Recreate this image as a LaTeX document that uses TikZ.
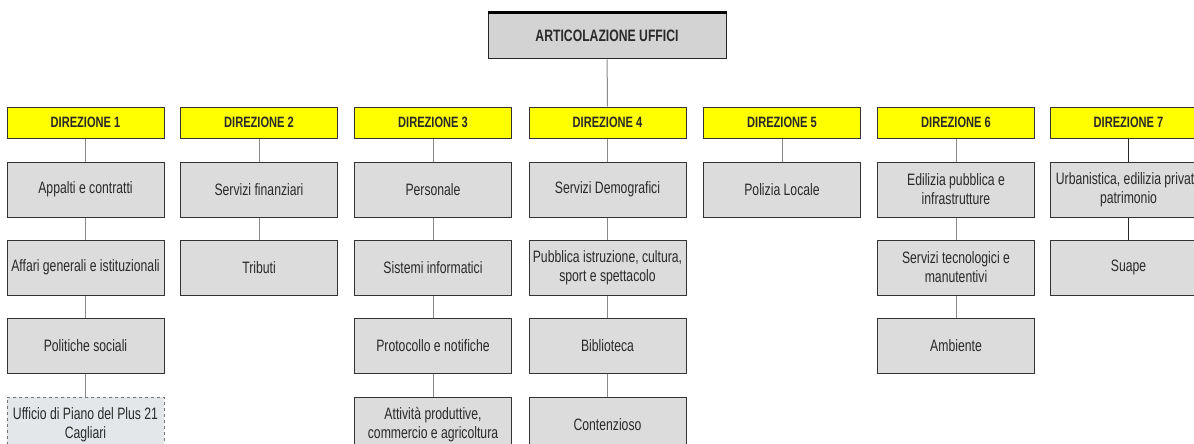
\documentclass[tikz,border=0pt]{standalone}
\usepackage{fontspec}
\setmainfont{Liberation Sans}[FakeStretch=0.74]
\definecolor{boxgray}{HTML}{DCDCDC}
\definecolor{topgray}{HTML}{D3D3D3}
\definecolor{dirlow}{HTML}{FFFF00}
\definecolor{linegray}{HTML}{8A8A8A}
\definecolor{dashfill}{HTML}{E3E7E9}
\definecolor{txt}{HTML}{2A2A2A}
\tikzset{
  topbox/.style={draw=black!85, line width=1pt, fill=topgray, minimum width=238pt, minimum height=46pt, inner sep=0pt, text=txt, font=\fontsize{16.5}{18}\selectfont\bfseries},
  dirbox/.style={draw=black!80, line width=1pt, fill=dirlow, minimum width=157pt, minimum height=31pt, inner sep=0pt, text=txt, font=\fontsize{15}{16}\selectfont\bfseries},
  officebox/.style={draw=black!80, line width=1pt, fill=boxgray, minimum width=157pt, minimum height=55pt, inner sep=0pt, align=center, text=txt, font=\fontsize{16.5}{19}\selectfont},
  dashbox/.style={draw=black!55, dashed, line width=1pt, fill=dashfill, minimum width=157pt, minimum height=55pt, inner sep=0pt, align=center, text=txt, font=\fontsize{16.5}{19}\selectfont},
  conn/.style={draw=linegray, line width=1pt},
  darkconn/.style={draw=black!85, line width=1.2pt}
}
\begin{document}
\begin{tikzpicture}[x=1pt,y=-1pt]
\useasboundingbox (0,0) rectangle (1194,444);
\clip (0,0) rectangle (1194,444);
\fill[white] (0,0) rectangle (1194,444);
% top
\node[topbox] (top) at (607,36) {ARTICOLAZIONE UFFICI};
% direzioni
\node[dirbox] (d1) at (85.5,122.5) {DIREZIONE 1};
\node[dirbox] (d2) at (259,122.5) {DIREZIONE 2};
\node[dirbox] (d3) at (433,122.5) {DIREZIONE 3};
\node[dirbox] (d4) at (607.5,122.5) {DIREZIONE 4};
\node[dirbox] (d5) at (782,122.5) {DIREZIONE 5};
\node[dirbox] (d6) at (956,122.5) {DIREZIONE 6};
\node[dirbox] (d7) at (1128.5,122.5) {DIREZIONE 7};
% D1
\node[officebox] (a1) at (85.5,189.5) {Appalti e contratti};
\node[officebox] (a2) at (85.5,267.5) {Affari generali e istituzionali};
\node[officebox] (a3) at (85.5,345.5) {Politiche sociali};
\node[dashbox] (a4) at (85.5,424.5) {Ufficio di Piano del Plus 21\\Cagliari};
% D2
\node[officebox] (b1) at (259,189.5) {Servizi finanziari};
\node[officebox] (b2) at (259,267.5) {Tributi};
% D3
\node[officebox] (c1) at (433,189.5) {Personale};
\node[officebox] (c2) at (433,267.5) {Sistemi informatici};
\node[officebox] (c3) at (433,345.5) {Protocollo e notifiche};
\node[officebox] (c4) at (433,424.5) {Attività produttive,\\commercio e agricoltura};
% D4
\node[officebox] (e1) at (607.5,189.5) {Servizi Demografici};
\node[officebox] (e2) at (607.5,267.5) {Pubblica istruzione, cultura,\\sport e spettacolo};
\node[officebox] (e3) at (607.5,345.5) {Biblioteca};
\node[officebox] (e4) at (607.5,424.5) {Contenzioso};
% D5
\node[officebox] (f1) at (782,189.5) {Polizia Locale};
% D6
\node[officebox] (g1) at (956,189.5) {Edilizia pubblica e\\infrastrutture};
\node[officebox] (g2) at (956,267.5) {Servizi tecnologici e\\manutentivi};
\node[officebox] (g3) at (956,345.5) {Ambiente};
% D7
\node[officebox] (h1) at (1128.5,189.5) {Urbanistica, edilizia privata\\patrimonio};
\node[officebox] (h2) at (1128.5,267.5) {Suape};
% connectors
\draw[conn] (top) -- (d4);
\draw[conn] (d1) -- (a1); \draw[conn] (a1) -- (a2); \draw[conn] (a2) -- (a3); \draw[conn] (a3) -- (a4);
\draw[conn] (d2) -- (b1); \draw[conn] (b1) -- (b2);
\draw[conn] (d3) -- (c1); \draw[conn] (c1) -- (c2); \draw[conn] (c2) -- (c3); \draw[conn] (c3) -- (c4);
\draw[conn] (d4) -- (e1); \draw[conn] (e1) -- (e2); \draw[conn] (e2) -- (e3); \draw[conn] (e3) -- (e4);
\draw[conn] (d5) -- (f1);
\draw[conn] (d6) -- (g1); \draw[conn] (g1) -- (g2); \draw[conn] (g2) -- (g3);
\draw[darkconn] (d7) -- (h1); \draw[darkconn] (h1) -- (h2);
% thick top edge of top box
\draw[black, line width=2.2pt] (top.north west) -- (top.north east);
\end{tikzpicture}
\end{document}
